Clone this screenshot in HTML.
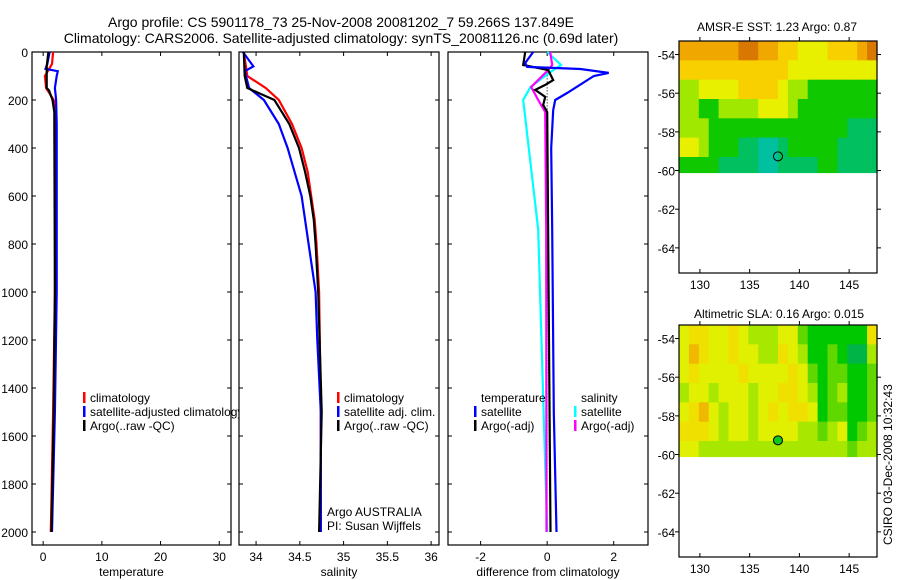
<!DOCTYPE html>
<html><head><meta charset="utf-8"><style>
html,body{margin:0;padding:0;background:#fff}
svg{display:block;font-family:"Liberation Sans",sans-serif}
</style></head><body>
<svg id="fig" width="900" height="580" viewBox="0 0 900 580" xmlns="http://www.w3.org/2000/svg">
<text x="341" y="27" font-size="14" text-anchor="middle">Argo profile: CS 5901178_73 25-Nov-2008 20081202_7 59.266S 137.849E</text>
<text x="341" y="43" font-size="14" text-anchor="middle">Climatology: CARS2006. Satellite-adjusted climatology: synTS_20081126.nc (0.69d later)</text>
<text x="777" y="31" font-size="12" text-anchor="middle">AMSR-E SST: 1.23 Argo: 0.87</text>
<text x="779" y="318" font-size="12" text-anchor="middle">Altimetric SLA: 0.16 Argo: 0.015</text>
<text transform="translate(892,545) rotate(-90)" font-size="12">CSIRO 03-Dec-2008 10:32:43</text>
<g id="layer"></g>
</svg>
<script>
// ---- Temperature panel data ----
const tClimDepth=[0,50,80,100,150,200,250,400,1000,1500,2000];
const tClimVal=[1.7,1.5,0.8,0.3,0.5,1.8,2.1,2.1,2.0,1.7,1.3];
const tSatDepth=[0,50,70,80,100,150,200,300,1000,1500,2000];
const tSatVal=[1.1,0.7,0.4,2.5,2.3,2.0,2.2,2.3,2.3,2.0,1.5];
const tArgoDepth=[0,60,150,160,200,250,1000,1500,2000];
const tArgoVal=[0.9,0.6,0.6,1.0,1.6,1.9,2.0,1.8,1.4];
// ---- Salinity panel data ----
const sClimDepth=[0,100,150,200,300,400,500,600,700,800,1000,1500,2000];
const sClimVal=[33.86,33.90,34.11,34.26,34.41,34.52,34.59,34.63,34.67,34.69,34.72,34.74,34.74];
const sSatDepth=[0,60,80,150,200,300,400,500,600,700,800,1000,1200,1500,2000];
const sSatVal=[33.85,33.97,33.87,33.92,34.09,34.26,34.36,34.44,34.52,34.56,34.60,34.68,34.70,34.74,34.74];
const sArgoDepth=[0,100,150,200,300,400,500,600,700,800,1000,1500,2000];
const sArgoVal=[33.86,33.87,33.90,34.21,34.38,34.49,34.56,34.62,34.66,34.68,34.71,34.75,34.72];
// ---- Difference panel data ----
const dTSatDepth=[0,46,62,71,87,100,171,200,242,400,740,1500,2000];
const dTSatVal=[-0.42,-0.66,-0.6,1.0,1.85,1.4,0.6,0.24,0.18,0.12,0.15,0.2,0.28];
const dSSatDepth=[0,54,83,146,200,740,2000];
const dSSatVal=[0,0.42,0.1,-0.5,-0.72,-0.27,0.0];
const dTArgoDepth=[0,54,75,117,137,158,187,221,250,2000];
const dTArgoVal=[-0.66,-0.72,0.03,0.18,-0.06,-0.36,-0.06,-0.12,0,0.1];
const dSArgoDepth=[0,54,75,146,200,250,740,2000];
const dSArgoVal=[0.09,0.15,0.03,-0.48,-0.27,-0.06,-0.03,-0.02];
// ---- Ticks ----
const depthTicks=[0,200,400,600,800,1000,1200,1400,1600,1800,2000];
const tempTicks=[0,10,20,30];
const salTicks=[34,34.5,35,35.5,36];
const diffTicks=[-2,0,2];
const lonTicks=[130,135,140,145];
const latTicks=[-54,-56,-58,-60,-62,-64];
// ---- Map grids (1 degree, lon 128..148, lat -53.3..-60.1) ----
const sstRows=["77777788776655566678","66666666666555555555","44555566665443333333","44334444555433333333","44433333333333333222","55433322112333332222","33332222112222332222"];
const slaRows=["45544543334421111115","46544544335431121003","45444454444542122112","34434443445543123112","45643443454554122112","55543443444433234123","44333333333333333233"];
const sstColors=["#00c8c8","#00c0a0","#00c060","#10c800","#a0e800","#e8f000","#f8d000","#f0a800","#d87800"];
const slaColors=["#00b448","#00c800","#60d800","#a8e800","#e0f000","#f0e000","#f0b800"];

const NS="http://www.w3.org/2000/svg";
const layer=document.getElementById('layer');
function mk(tag,attrs,parent){const e=document.createElementNS(NS,tag);for(const k in attrs)e.setAttribute(k,attrs[k]);(parent||layer).appendChild(e);return e;}

const Y0=52, PY=0.24, YB=545;
const yD=d=>Y0+d*PY;
const panels=[
 {name:'temperature-panel',x0:32,x1:231,lo:-1.9,hi:32.0,ticks:tempTicks,label:'temperature'},
 {name:'salinity-panel',x0:239,x1:439,lo:33.805,hi:36.09,ticks:salTicks,label:'salinity'},
 {name:'difference-panel',x0:448,x1:648,lo:-2.98,hi:3.03,ticks:diffTicks,label:'difference from climatology'}
];
panels.forEach(p=>{p.sx=v=>p.x0+(v-p.lo)/(p.hi-p.lo)*(p.x1-p.x0);});

function drawPanel(p,idx){
  const g=mk('g',{});
  
  
  const r=mk('rect',{x:p.x0,y:Y0,width:p.x1-p.x0,height:YB-Y0,fill:'#fff',stroke:'#000','stroke-width':1.2},g);
  
  
  depthTicks.forEach(d=>{
    const y=yD(d);
    mk('line',{x1:p.x0,x2:p.x0+4,y1:y,y2:y,stroke:'#000'},g);
    mk('line',{x1:p.x1,x2:p.x1-4,y1:y,y2:y,stroke:'#000'},g);
    if(idx===0){const t=mk('text',{x:28,y:y+5,'font-size':12,'text-anchor':'end'},g);t.textContent=d;
      
      }
  });
  p.ticks.forEach(v=>{
    const x=p.sx(v);
    mk('line',{x1:x,x2:x,y1:YB,y2:YB-4,stroke:'#000'},g);
    mk('line',{x1:x,x2:x,y1:Y0,y2:Y0+4,stroke:'#000'},g);
    const t=mk('text',{x:x,y:561,'font-size':12,'text-anchor':'middle'},g);t.textContent=v;
    
    
  });
  const l=mk('text',{x:(p.x0+p.x1)/2,y:576,'font-size':12,'text-anchor':'middle'},g);l.textContent=p.label;
  
  
  return g;
}
function line(p,depths,vals,color,name,g,w){
  const pts=depths.map((d,i)=>p.sx(vals[i]).toFixed(1)+','+yD(d).toFixed(1)).join(' ');
  const e=mk('polyline',{points:pts,fill:'none',stroke:color,'stroke-width':w||2.2},g);
  
  
}
function legend(x,y,color,text,g){
  if(color){mk('rect',{x:x,y:y-10,width:2.5,height:11,fill:color},g);}
  const t=mk('text',{x:x+7,y:y,'font-size':12},g);t.textContent=text;
  
  
}
// panel 1
let g=drawPanel(panels[0],0);
line(panels[0],tClimDepth,tClimVal,'#f00','temperature-climatology-line',g);
line(panels[0],tSatDepth,tSatVal,'#00f','temperature-satellite-line',g);
line(panels[0],tArgoDepth,tArgoVal,'#000','temperature-argo-line',g);
legend(83,402,'#f00','climatology',g);legend(83,416,'#00f','satellite-adjusted climatology',g);legend(83,430,'#000','Argo(..raw -QC)',g);
// panel 2 (clip legend overflow of panel 1 handled by drawing panel 2 on top)
g=drawPanel(panels[1],1);
line(panels[1],sClimDepth,sClimVal,'#f00','salinity-climatology-line',g);
line(panels[1],sSatDepth,sSatVal,'#00f','salinity-satellite-line',g);
line(panels[1],sArgoDepth,sArgoVal,'#000','salinity-argo-line',g);
legend(337,402,'#f00','climatology',g);legend(337,416,'#00f','satellite adj. clim.',g);legend(337,430,'#000','Argo(..raw -QC)',g);
legend(320,516,null,'Argo AUSTRALIA',g);legend(320,530,null,'PI: Susan Wijffels',g);
// panel 3
g=drawPanel(panels[2],2);
mk('line',{x1:panels[2].sx(0),x2:panels[2].sx(0),y1:yD(60),y2:yD(2000),stroke:'#000','stroke-dasharray':'1,2'},g);
line(panels[2],dSSatDepth,dSSatVal,'#0ff','diff-salinity-satellite-line',g);
line(panels[2],dSArgoDepth,dSArgoVal,'#f0f','diff-salinity-argo-line',g);
line(panels[2],dTArgoDepth,dTArgoVal,'#000','diff-temperature-argo-line',g);
line(panels[2],dTSatDepth,dTSatVal,'#00f','diff-temperature-satellite-line',g);
legend(474,402,null,'temperature',g);legend(474,416,'#00f','satellite',g);legend(474,430,'#000','Argo(-adj)',g);
legend(574,402,null,'salinity',g);legend(574,416,'#0ff','satellite',g);legend(574,430,'#f0f','Argo(-adj)',g);

// maps
function drawMap(name,top,rows,colors,dotFill){
  const x0=679,x1=877,lonLo=127.9,lonHi=147.8,latTop=-53.3,latBot=-65.3;
  const h=232;
  const sx=v=>x0+(v-lonLo)/(lonHi-lonLo)*(x1-x0);
  const sy=v=>top+(latTop-v)/(latTop-latBot)*h;
  const g=mk('g',{});
  
  
  mk('rect',{x:x0,y:top,width:x1-x0,height:h,fill:'#fff'},g);
  const nr=rows.length, nc=rows[0].length;
  const latEdges=[-53.3,-54.3,-55.3,-56.3,-57.3,-58.3,-59.3,-60.1];
  for(let r=0;r<nr;r++)for(let c=0;c<nc;c++){
    const v=+rows[r][c];
    const cx=sx(128+c*(20/nc)-0.1), cw=(x1-x0)/nc;
    const cell=mk('rect',{x:(x0+c*cw).toFixed(2),y:sy(latEdges[r]).toFixed(2),width:(cw+0.6).toFixed(2),height:(sy(latEdges[r+1])-sy(latEdges[r])+0.6).toFixed(2),fill:colors[v]},g);
    
    
  }
  mk('rect',{x:x0,y:top,width:x1-x0,height:h,fill:'none',stroke:'#000','stroke-width':1.2},g);
  lonTicks.forEach(v=>{const x=sx(v);
    mk('line',{x1:x,x2:x,y1:top+h,y2:top+h-4,stroke:'#000'},g);mk('line',{x1:x,x2:x,y1:top,y2:top-4,stroke:'#000'},g);
    const t=mk('text',{x:x,y:top+h+16,'font-size':12,'text-anchor':'middle'},g);t.textContent=v;
    
    });
  latTicks.forEach(v=>{const y=sy(v);
    mk('line',{x1:x0,x2:x0-4,y1:y,y2:y,stroke:'#000'},g);mk('line',{x1:x1,x2:x1+4,y1:y,y2:y,stroke:'#000'},g);
    const t=mk('text',{x:x0-4,y:y+5,'font-size':12,'text-anchor':'end'},g);t.textContent=v;
    
    });
  const dot=mk('circle',{cx:sx(137.849),cy:sy(-59.266),r:4.5,fill:dotFill,stroke:'#000','stroke-width':1},g);
  
  
}
drawMap('sst-map',41,sstRows,sstColors,'none');
drawMap('sla-map',325,slaRows,slaColors,'#10c820');
</script>
</body></html>
